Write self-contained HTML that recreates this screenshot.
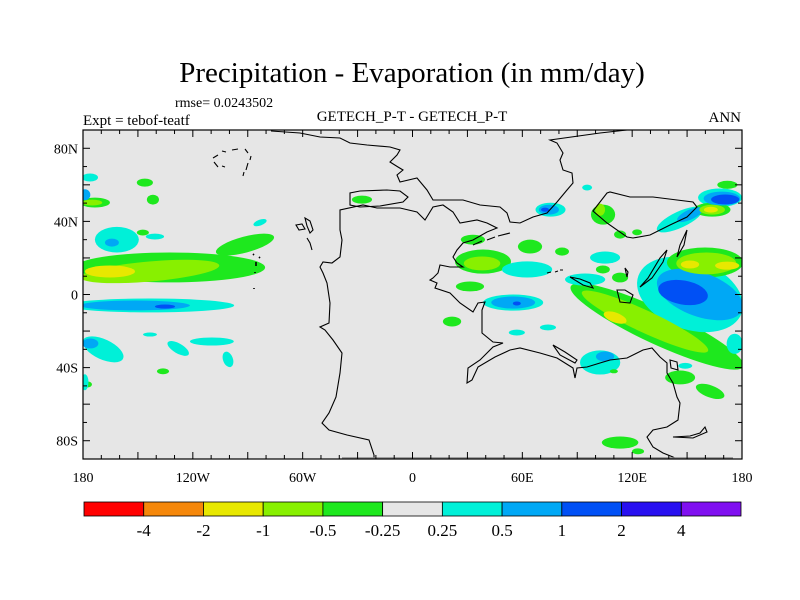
<!DOCTYPE html>
<html><head><meta charset="utf-8"><style>
html,body{margin:0;padding:0;background:#fff;}
svg{display:block;font-family:"Liberation Serif",serif;}
</style></head><body>
<svg id="chart" width="800" height="600" viewBox="0 0 800 600">
<text x="412" y="82" text-anchor="middle" font-size="29">Precipitation - Evaporation (in mm/day)</text>
<text x="175" y="107" font-size="14">rmse= 0.0243502</text>
<text x="83" y="125" font-size="15">Expt = tebof-teatf</text>
<text x="412" y="121" text-anchor="middle" font-size="15">GETECH_P-T - GETECH_P-T</text>
<text x="741" y="122" text-anchor="end" font-size="15">ANN</text>
<defs><clipPath id="plotclip"><rect x="83" y="130" width="659" height="329"/></clipPath></defs>
<rect x="83" y="130" width="659" height="329" fill="#e6e6e6"/>
<g id="fills" clip-path="url(#plotclip)"></g>
<g id="coast" clip-path="url(#plotclip)" fill="none" stroke="#000" stroke-width="1.1">
<path d="M271,131 L300,133 L320,137 L340,138 L350,143 L367,145 L390,147 L400,150 L397,155 L390,162 L398,167 L403,170 L397,175 L400,182 L417,178 L427,190 L433,200 L463,200 L480,205 L500,207 L507,213 L510,222 L520,223 L533,217 L547,213 L557,202 L567,190 L573,183 L572,173 L563,170 L560,160 L563,153 L557,143 L550,140 L600,133 L627,130"/>
<path d="M350,205 L350,193 L360,191 L387,190 L400,191 L408,197 L403,202 L380,206 L360,207 Z"/>
<path d="M374,459 L374,455 L369,440 L347,435 L329,430 L322,423 L329,413 L336,397 L340,373 L342,353 L333,340 L325,330 L320,327 L329,323 L330,303 L327,283 L323,273 L320,267 L323,262 L332,263 L340,257 L342,240 L340,230 L340,210 L363,205 L377,208 L400,208 L417,212 L425,220 L433,207 L443,205 L453,212 L460,223 L477,220 L487,223 L497,228 L487,232 L473,240 L463,243 L457,250 L453,257 L457,263 L463,267 L450,267 L440,265 L438,273 L433,278 L430,280 L437,283 L435,288 L450,293 L460,303 L473,312 L478,303 L485,302 L482,310 L482,333 L493,342 L503,343 L493,347 L480,360 L468,368 L467,383 L472,380 L478,367 L495,357 L510,350 L520,348 L540,353 L557,358 L573,368 L575,378 L577,368 L587,367 L600,363 L610,360 L627,358 L643,350 L652,348 L660,357 L667,363 L667,373 L673,383 L677,397 L680,403 L678,420 L667,427 L653,430 L647,437 L653,447 L663,453 L673,457 L676,459"/>
<path d="M593,211 L607,193 L610,192 L630,197 L653,197 L693,202 L697,207 L687,217 L670,225 L650,235 L633,238 L627,237 L607,223 Z"/>
<path d="M640,287 L648,278 L660,258 L667,250 L663,262 L652,278 Z"/>
<path d="M687,230 L684,245 L677,257 L680,245 Z"/>
<path d="M570,277 L580,279 L590,283 L593,288 L583,285 Z"/>
<path d="M617,290 L625,290 L633,295 L630,303 L620,302 Z"/>
<path d="M625,268 L628,272 L627,277 Z"/>
<path d="M553,345 L565,352 L577,360 L575,363 L560,355 Z"/>
<path d="M670,360 L677,362 L678,370 L671,368 Z"/>
<path d="M673,437 L690,436 L700,433 L705,427 L707,432 L693,438 Z"/>
<path d="M473,245 L482,241 M487,240 L495,237 M498,236 L510,233"/>
<path d="M547,273 L551,272 M555,272 L558,271 M560,270 L563,270"/>
<path d="M305,218 L310,221 L313,230 L310,233 L307,226 Z"/>
<path d="M307,238 L310,243 L312,250"/>
<path d="M296,225 L302,224 L305,229 L299,230 Z"/>
<path d="M213,158 L218,155 M222,151 L226,152 M232,150 L238,149 M245,149 L248,153 M251,156 L250,160 M248,163 L246,170 M244,172 L243,176 M214,162 L218,167 M222,166 L225,167"/>
<path stroke-width="1.6" d="M253,254 L254,255 M259,257 L260,258 M256,262 L256,266 M255,272 L255,273 M254,288 L254,289"/>
<path stroke="#888" stroke-width="1.5" d="M342,458 L733,458"/>
</g>
<g id="axes"></g>
<rect x="83" y="130" width="659" height="329" fill="none" stroke="#000" stroke-width="1.2"/>
<g id="colorbar"></g>
</svg>
<script>
// contour levels and colors
var levels = [-4, -2, -1, -0.5, -0.25, 0.25, 0.5, 1, 2, 4];
var levelLabels = ["-4", "-2", "-1", "-0.5", "-0.25", "0.25", "0.5", "1", "2", "4"];
var palette = ["#ff0000", "#f5870a", "#e8e800", "#88f000", "#1ee81e", "#e6e6e6", "#00f0d8", "#00a8f5", "#0050f5", "#2810f0", "#8010f0"];
// anomaly features: center lon, lat, half widths (deg), rotation, value (mm/day)
var blobLon = [-132.5,-91.5,-143.4,-165.3,-143.4,-151.6,-135.2,-161.5,-164.2,-176.2,-179,-173.5,-175,-146.2,-141.8,-147.3,-140.7,-83.3,-169,-176,-128,-109.6,-100.8,-136.3,-143.4,-177.3,-179,
 -27.6,75.4,74.5,72.4,33,38.5,38,64.2,62.6,31.4,55,55,57,21.6,81.7,95.4,
 133.6,127,110.7,151.6,157,147.8,146,151.6,168,169,170.8,172,163.7,163.7,163,159.8,160.5,151.6,171.9,104.1,102.5,113.4,122.7,105.2,102.5,105.2,110,146.2,162.6,113.4,123.2,57,74,94.3,113.4,104,176,149];
var blobLat = [14.8,27.3,12.6,12.6,-6,-6,-6.6,30,28.4,64,54.6,50.3,50.3,61.2,51.9,33.9,31.7,39.3,-30,-26.8,-29.5,-25.7,-35.5,-42,-21.9,-49.2,-48,
 51.9,46.4,46.4,46.4,30,18,17,26.2,13.7,4.4,-4.4,-4.4,-4.9,-14.8,23.5,58.5,
 -17.5,-14.8,-12.6,0,0,1.1,41,43.7,53,52.5,52,60,46.4,46.4,46.4,17.5,17,16.4,15.8,43.7,46.4,32.8,34,20.2,-37.2,-33.9,-42,-45.4,-53,-81,-85.8,-20.8,-18,8.2,9.3,13.7,-27,-39];
var blobRx = [52,16.4,38,13.7,46,30,5.5,12,3.8,4.4,3,8.2,5.5,4.4,3.3,3.3,5,3.8,12,4.4,6.6,12,2.7,3.3,3.8,2.2,2,
 5.5,8.2,5.5,2.2,6.6,15.3,10,6.6,13.7,7.7,16.4,12,2.2,5,3.8,2.7,
 52,38,6.6,30,24.6,13.7,13.7,7.7,12,10,7.7,5.5,10,7,3.8,20.8,16.4,5,6.6,6.6,2.7,3.3,2.7,8.2,11,5,2.2,8.2,8.2,10,3.3,4.4,4.4,11,4.4,3.8,4.4,3.8];
var blobRy = [8.2,4.4,5.5,3.3,3.8,2.7,1.1,7,2.2,2.2,3,2.7,1.6,2.2,2.7,1.6,1.6,1.6,5.5,2.7,2.7,2.2,4.4,1.6,1.1,1.6,4.4,
 2.2,3.8,2.7,1.1,2.7,6.6,3.8,3.8,4.4,2.7,4.4,3.3,1.1,2.7,2.2,1.6,
 9.5,6,2.7,19,12,6.6,4.4,2.7,5,3.8,2.7,2.2,3.8,2.7,1.6,8.2,6,2.2,2.2,5.5,3.3,2.2,1.6,3.3,6.6,2.7,1.1,3.8,3.3,3.3,1.6,1.6,1.6,3.3,2.7,2.2,5.5,1.6];
var blobRot = [0,-15,-5,0,0,0,0,0,0,0,0,0,0,0,0,0,0,-20,25,0,30,0,-20,0,0,0,0,
 0,0,0,0,0,0,0,0,0,0,0,0,0,0,0,0,
 25,25,20,20,20,10,-25,-25,0,0,0,0,0,0,0,0,0,0,0,0,0,0,0,0,0,0,0,0,20,0,0,0,0,0,0,0,0,0];
var blobVal = [-0.3,-0.3,-0.7,-1.5,0.3,0.7,1.5,0.3,0.7,0.3,0.7,-0.3,-0.7,-0.3,-0.3,-0.3,0.3,0.3,0.3,0.7,0.3,0.3,0.3,-0.3,0.3,-0.3,0.3,
 -0.3,0.3,0.7,1.5,-0.3,-0.3,-0.7,-0.3,0.3,-0.3,0.3,0.7,1.5,-0.3,-0.3,0.3,
 -0.3,-0.7,-1.5,0.3,0.7,1.5,0.3,0.7,0.3,0.7,1.5,-0.3,-0.3,-0.7,-1.5,-0.3,-0.7,-1.5,-1.5,-0.3,-0.7,-0.3,-0.3,0.3,0.3,0.7,-0.3,-0.3,-0.3,-0.3,-0.3,0.3,0.3,0.3,-0.3,-0.3,0.3,0.3];
var lonTicks = [-180,-120,-60,0,60,120,180];
var lonLabels = ["180","120W","60W","0","60E","120E","180"];
var latTicks = [80,40,0,-40,-80];
var latLabels = ["80N","40N","0","40S","80S"];

var NS = "http://www.w3.org/2000/svg";
var X0 = 83, X1 = 742, Y0 = 130, Y1 = 459;
function xs(lon){ return X0 + (lon + 180) / 360 * (X1 - X0); }
function ys(lat){ return Y0 + (90 - lat) / 180 * (Y1 - Y0); }
var kx = (X1 - X0) / 360, ky = (Y1 - Y0) / 180;
function colorFor(v){ var i = 0; while (i < levels.length && v >= levels[i]) i++; return palette[i]; }

var fills = document.getElementById("fills");
var order = blobVal.map(function(v,i){return i;}).sort(function(a,b){return Math.abs(blobVal[a]) - Math.abs(blobVal[b]);});
order.forEach(function(i){
  var e = document.createElementNS(NS, "ellipse");
  var cx = xs(blobLon[i]), cy = ys(blobLat[i]);
  e.setAttribute("cx", cx); e.setAttribute("cy", cy);
  e.setAttribute("rx", blobRx[i] * kx); e.setAttribute("ry", blobRy[i] * ky);
  e.setAttribute("transform", "rotate(" + blobRot[i] + " " + cx + " " + cy + ")");
  e.setAttribute("fill", colorFor(blobVal[i]));
  
  
  fills.appendChild(e);
});

var axes = document.getElementById("axes");
function line(x1,y1,x2,y2){
  var l = document.createElementNS(NS, "line");
  l.setAttribute("x1",x1); l.setAttribute("y1",y1); l.setAttribute("x2",x2); l.setAttribute("y2",y2);
  l.setAttribute("stroke","#000"); l.setAttribute("stroke-width","1");
  
  
  axes.appendChild(l);
}
function text(x,y,s,anchor,name){
  var t = document.createElementNS(NS, "text");
  t.setAttribute("x",x); t.setAttribute("y",y); t.setAttribute("text-anchor",anchor);
  t.setAttribute("font-size","14"); t.textContent = s;
  
  
  axes.appendChild(t);
}
for (var lon = -180; lon <= 180; lon += 10){
  var len = (lon % 30 === 0) ? 7 : 4, x = xs(lon);
  line(x, Y1, x, Y1 - len); line(x, Y0, x, Y0 + len);
}
for (var lat = -90; lat <= 90; lat += 10){
  var len2 = (lat % 20 === 0) ? 7 : 4, y = ys(lat);
  line(X0, y, X0 + len2, y); line(X1, y, X1 - len2, y);
}
lonTicks.forEach(function(v,i){ text(xs(v), 482, lonLabels[i], "middle", "x-tick-label"); });
latTicks.forEach(function(v,i){ text(78, ys(v) + 5, latLabels[i], "end", "y-tick-label"); });

var cb = document.getElementById("colorbar");
var cbX0 = 84, cbX1 = 741, cbY = 502, cbH = 14, bw = (cbX1 - cbX0) / palette.length;
palette.forEach(function(c,i){
  var r = document.createElementNS(NS, "rect");
  r.setAttribute("x", cbX0 + i * bw); r.setAttribute("y", cbY); r.setAttribute("width", bw); r.setAttribute("height", cbH);
  r.setAttribute("fill", c); r.setAttribute("stroke", "#000"); r.setAttribute("stroke-width", "0.8");
  
  
  cb.appendChild(r);
});
levelLabels.forEach(function(s,i){
  var t = document.createElementNS(NS, "text");
  t.setAttribute("x", cbX0 + (i + 1) * bw); t.setAttribute("y", 536); t.setAttribute("text-anchor", "middle");
  t.setAttribute("font-size", "17"); t.textContent = s;
  
  
  cb.appendChild(t);
});
</script>
</body></html>
